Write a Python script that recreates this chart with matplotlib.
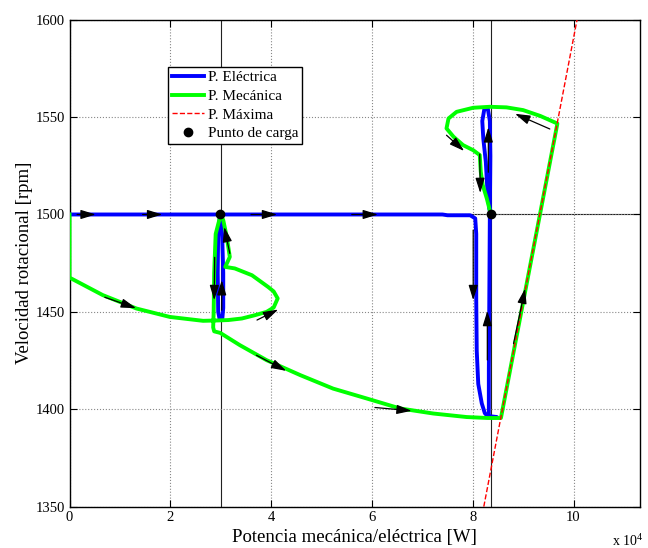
import matplotlib
matplotlib.use("Agg")
import matplotlib.pyplot as plt
import numpy as np

plt.rcParams['font.family'] = ['Liberation Serif', 'DejaVu Serif']
plt.rcParams['mathtext.default'] = 'regular'

# potencias en unidades de 1e4 W, velocidades en rpm
elec_x = [0, 2.99, 2.95, 2.94, 2.95, 2.98, 3.03, 3.05, 3.05, 3.03, 3.0,
          7.4, 7.5, 7.95, 8.05, 8.07, 8.07, 8.08, 8.11, 8.18, 8.24, 8.31, 8.48,
          8.32, 8.32, 8.33, 8.34, 8.35, 8.34, 8.30, 8.23, 8.19, 8.21, 8.26,
          8.29, 8.33, 8.36]
elec_y = [1500, 1500, 1492, 1470, 1450, 1446, 1446, 1452, 1470, 1488, 1500,
          1500, 1499.6, 1499.6, 1498, 1490, 1456, 1430, 1413, 1403, 1398, 1396, 1396,
          1396.5, 1420, 1460, 1500, 1530, 1548, 1554.3, 1554, 1548, 1539, 1527,
          1513, 1503, 1500]

mec_x = [0, 0, 0.66, 1.33, 1.99, 2.65, 2.95, 3.15, 3.42, 3.68, 3.91, 4.05,
         4.13, 4.05, 3.94, 3.62, 3.28, 3.09, 3.12, 3.18, 3.12, 3.05, 3.0,
         2.90, 2.87, 2.86, 2.85, 2.87, 2.99, 3.38, 3.91, 4.58, 5.23, 5.90,
         6.56, 7.22, 7.88, 8.3, 8.56, 9.68, 9.34, 9.00, 8.67, 8.34, 8.01,
         7.68, 7.52, 7.48, 7.62, 7.81, 8.01, 8.14, 8.16, 8.20, 8.28, 8.36]
mec_y = [1500, 1467.6, 1458.6, 1451.7, 1447.4, 1445.4, 1445.6, 1445.8, 1446.6,
         1448.3, 1450.0, 1452.2, 1456.9, 1460.5, 1462.8, 1468.8, 1472.3, 1473.1,
         1474.8, 1478.2, 1488.5, 1497.1, 1500,
         1490, 1470, 1450, 1442, 1440, 1439.2, 1432.9, 1425.2, 1417.5, 1410.6,
         1405.5, 1400.4, 1397.8, 1396.0, 1395.5, 1395.5, 1546.7, 1550.6, 1553.6,
         1555.0, 1555.3, 1554.8, 1552.7, 1549.3, 1544.2, 1539.9, 1535.6, 1533.0,
         1530.5, 1521.9, 1515.0, 1508.2, 1500]

pmax_x = [8.22, 10.07]
pmax_y = [1350, 1600]

carga_x = [2.99, 8.36]
carga_y = [1500, 1500]

# flechas de sentido: (x cola, y cola, x punta, y punta)
flechas = [
    (0.15, 1500, 0.52, 1500), (1.45, 1500, 1.84, 1500),
    (3.6, 1500, 4.12, 1500), (5.6, 1500, 6.12, 1500),
    (0.70, 1457.5, 1.32, 1451.9), (3.72, 1445.8, 4.14, 1451.2),
    (3.18, 1480, 3.07, 1493.6), (2.88, 1478, 2.87, 1456),
    (3.02, 1450.9, 3.02, 1466.3), (3.71, 1427.7, 4.30, 1419.7),
    (6.06, 1400.9, 6.79, 1399.2), (8.01, 1492, 8.01, 1456),
    (8.29, 1425.3, 8.29, 1450.5), (8.81, 1433.7, 9.04, 1462),
    (9.53, 1543.9, 8.84, 1551.7), (7.48, 1540.7, 7.83, 1532.6),
    (8.14, 1531, 8.15, 1511), (8.31, 1521.7, 8.31, 1544.8),
]

fig = plt.figure(figsize=(6.48, 5.48), dpi=100)
ax = fig.add_axes([0.1073, 0.0755, 0.8804, 0.8885])

# referencias
ax.axvline(3.0, color='#222222', lw=0.8, zorder=1)
ax.axvline(8.36, color='#222222', lw=0.8, zorder=1)
ax.axhline(1500, color='#222222', lw=0.8, zorder=1)

ax.plot(elec_x, elec_y, color='#0000ff', lw=2.8, label='P. Eléctrica', zorder=3,
        solid_joinstyle='round')
ax.plot(mec_x, mec_y, color='#00ff00', lw=2.8, label='P. Mecánica', zorder=4,
        solid_joinstyle='round')
ax.plot(pmax_x, pmax_y, 'r--', lw=1.0, label='P. Máxima', zorder=5)
ax.plot(carga_x, carga_y, 'o', color='black', ms=6, ls='none',
        label='Punto de carga', zorder=7)

for x0, y0, x1, y1 in flechas:
    ax.annotate('', xy=(x1, y1), xytext=(x0, y0),
                arrowprops=dict(arrowstyle='-|>,head_length=0.65,head_width=0.2',
                                color='black', lw=0.9,
                                mutation_scale=14, shrinkA=0, shrinkB=0),
                zorder=6)

ax.set_xlim(0, 11.32)
ax.set_ylim(1350, 1600)
ax.set_xticks(np.arange(0, 11, 2))
ax.set_yticks(np.arange(1350, 1601, 50))
ax.grid(True, color='#888888', linestyle=':', lw=0.8)
ax.tick_params(direction='in', top=True, right=True, length=5, labelsize=10.5)
for s in ax.spines.values():
    s.set_linewidth(1.0)

ax.set_xlabel('Potencia mecánica/eléctrica [W]', fontsize=13.5, labelpad=3)
ax.set_ylabel('Velocidad rotacional [rpm]', fontsize=13.5, labelpad=2)
fig.text(0.945, 0.004, 'x 10$^4$', fontsize=10)

leg = ax.legend(loc='upper left', bbox_to_anchor=(0.173, 0.903), borderaxespad=0,
                fontsize=11, handlelength=2.1, handletextpad=0.25,
                labelspacing=0.32, fancybox=False, framealpha=1,
                edgecolor='black', borderpad=0.25)
leg.get_frame().set_linewidth(1.0)

fig.savefig('out.png', dpi=100)
